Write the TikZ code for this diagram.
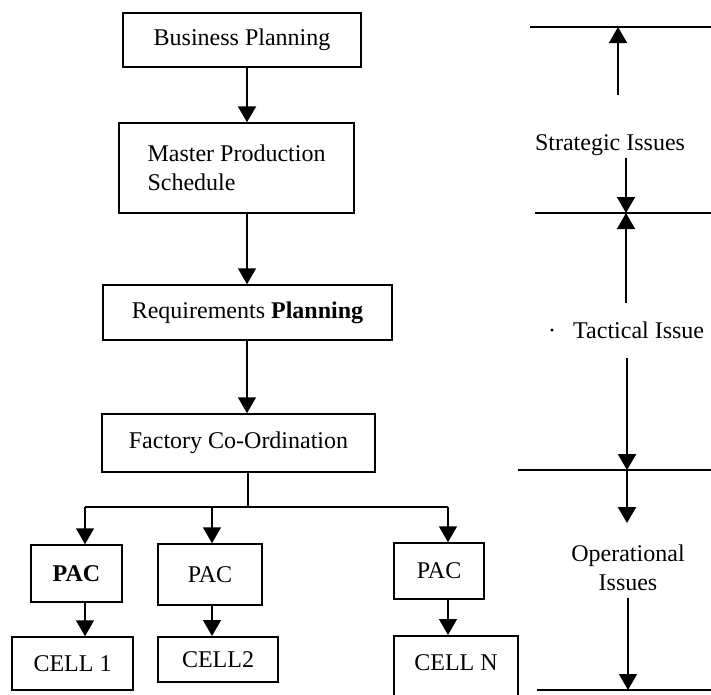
\documentclass[tikz,border=0pt]{standalone}
\usepackage{fontspec}
\setmainfont{Liberation Serif}
\usetikzlibrary{arrows.meta}
\begin{document}
\begin{tikzpicture}[x=1pt,y=-1pt,
  txt/.style={font=\fontsize{24}{29}\selectfont, inner sep=0pt},
  box/.style={draw, line width=1.5pt, inner sep=0pt, txt},
  conn/.style={line width=1.5pt},
  thick conn/.style={line width=2.5pt},
  arr/.style={line width=1.5pt, -{Triangle[width=18pt,length=16pt]}},
  thick arr/.style={line width=2.5pt, -{Triangle[width=18pt,length=16pt]}}]
\useasboundingbox (0,0) rectangle (711,694);
\clip (0,0) rectangle (711,694);
% left column
\node[box, line width=2pt, minimum width=238pt, minimum height=54pt] (bp) at (242,40) {Business Planning};
\node[box, minimum width=235pt, minimum height=90pt, align=left] (mps) at (236.5,168) {Master Production\\Schedule};
\node[box, minimum width=289pt, minimum height=55pt] (rp) at (247.5,312.5) {Requirements \textbf{Planning}};
\node[box, minimum width=273pt, minimum height=58pt] (fc) at (238.5,443) {Factory Co-Ordination};
\node[box, minimum width=91pt, minimum height=57pt] (pac1) at (76.5,573.5) {\textbf{PAC}};
\node[box, minimum width=104pt, minimum height=61pt] (pac2) at (210,574.5) {PAC};
\node[box, minimum width=90pt, minimum height=56pt] (pac3) at (439,571) {PAC};
\node[box, minimum width=121pt, minimum height=53pt] (cell1) at (72.5,663.5) {CELL 1};
\node[box, line width=2pt, minimum width=120pt, minimum height=45pt] (cell2) at (218,659.5) {CELL2};
\node[box, minimum width=124pt, minimum height=90pt, anchor=north] (celln) at (456,635) {};
\node[txt] (cellnl) at (456,663) {CELL N};
% connector helpers
\coordinate (ca) at (247,0);
\coordinate (sp) at (248,507);
\coordinate (sl) at (85,507);
\coordinate (sm) at (212,507);
\coordinate (sr) at (448,507);
\draw[thick arr] (bp.south -| ca) -- (mps.north -| ca);
\draw[arr] (mps.south -| ca) -- (rp.north -| ca);
\draw[arr] (rp.south -| ca) -- (fc.north -| ca);
\draw[conn] (fc.south -| sp) -- (sp);
\draw[conn] (sl) -- (sr);
\draw[arr] (sl) -- (pac1.north -| sl);
\draw[arr] (sm) -- (pac2.north -| sm);
\draw[arr] (sr) -- (pac3.north -| sr);
\draw[arr] (pac1.south -| sl) -- (cell1.north -| sl);
\draw[arr] (pac2.south -| sm) -- (cell2.north -| sm);
\draw[arr] (pac3.south -| sr) -- (celln.north -| sr);
% right side: level lines
\coordinate (l1a) at (530,27);  \coordinate (l1b) at (711,27);
\coordinate (l2a) at (535,213); \coordinate (l2b) at (711,213);
\coordinate (l3a) at (518,470); \coordinate (l3b) at (711,470);
\coordinate (l4a) at (537,690); \coordinate (l4b) at (711,690);
\draw[conn] (l1a) -- (l1b);
\draw[conn] (l2a) -- (l2b);
\draw[thick conn] (l3a) -- (l3b);
\draw[conn] (l4a) -- (l4b);
% labels
\node[txt] (strat) at (610,145) {Strategic Issues};
\node[txt, anchor=west] (tact) at (548,330) {·\hspace{17pt}Tactical Issue};
\node[txt, align=center] (oper) at (628,568) {Operational\\Issues};
% right side arrows
\coordinate (s1) at (618,95);  \coordinate (s1e) at (618,27);
\coordinate (s2) at (626,158); \coordinate (s2e) at (626,213);
\coordinate (t1) at (626,303); \coordinate (t1e) at (626,213);
\coordinate (t2) at (627,358); \coordinate (t2e) at (627,470);
\coordinate (o1) at (627,470); \coordinate (o1e) at (627,523);
\coordinate (o2) at (628,598); \coordinate (o2e) at (628,690);
\draw[arr] (s1) -- (s1e);
\draw[arr] (s2) -- (s2e);
\draw[arr] (t1) -- (t1e);
\draw[thick arr] (t2) -- (t2e);
\draw[thick arr] (o1) -- (o1e);
\draw[arr] (o2) -- (o2e);
\end{tikzpicture}
\end{document}
